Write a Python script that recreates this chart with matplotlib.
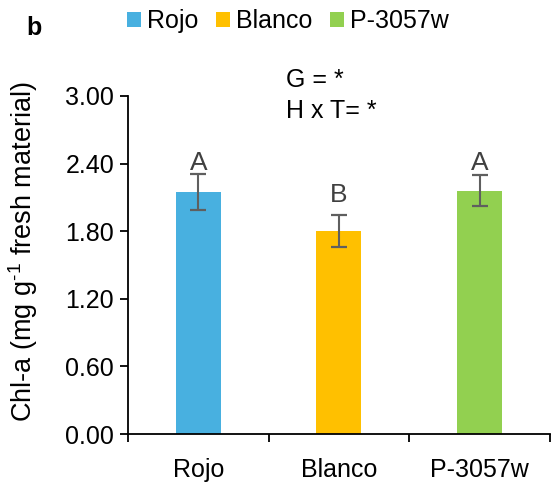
import matplotlib
matplotlib.use("Agg")
import matplotlib.pyplot as plt
from matplotlib.patches import Patch

plt.rcParams['font.family'] = ['Liberation Sans', 'DejaVu Sans']
plt.rcParams['mathtext.fontset'] = 'custom'
plt.rcParams['mathtext.rm'] = 'Liberation Sans'
plt.rcParams['mathtext.it'] = 'Liberation Sans:italic'

categories = ["Rojo", "Blanco", "P-3057w"]
values = [2.15, 1.80, 2.16]
errors = [0.16, 0.14, 0.14]
letters = ["A", "B", "A"]
letter_y = [2.34, 2.055, 2.34]
colors = ["#48B0E0", "#FFC000", "#92D050"]
yticks = [0.0, 0.6, 1.2, 1.8, 2.4, 3.0]

FS = 18

fig = plt.figure(figsize=(5.51, 4.84), dpi=100)
ax = fig.add_axes([0.2323, 0.1033, 0.7657, 0.6984])

x = list(range(len(categories)))
ax.bar(x, values, width=0.32, color=colors, zorder=2)
ax.errorbar(x, values, yerr=errors, fmt='none', ecolor='#5f5f5f',
            elinewidth=1.5, capsize=6, capthick=1.6, zorder=3)
for xi, ly, l in zip(x, letter_y, letters):
    ax.text(xi, ly, l, ha='center', va='baseline', fontsize=19, color='#404040')

ax.set_xlim(-0.5, 2.5)
ax.set_ylim(0, 3.0)
ax.set_yticks(yticks)
ax.set_yticklabels([f"{t:.2f}" for t in yticks])
ax.set_xticks([-0.5, 0.5, 1.5, 2.5])
ax.set_xticklabels([])
ax.set_xticks(x, minor=True)
ax.set_xticklabels(categories, minor=True)
ax.tick_params(axis='x', which='minor', length=0, pad=17, labelsize=FS)
ax.tick_params(axis='x', which='major', length=6, width=1.3, direction='out')
ax.tick_params(axis='y', length=6, width=1.3, labelsize=FS, pad=4)
for s in ['top', 'right']:
    ax.spines[s].set_visible(False)
for s in ['left', 'bottom']:
    ax.spines[s].set_linewidth(1.3)

fig.text(23/551, 1 - 252/484, "Chl-a (mg g$^{\\text{-1}}$ fresh material)",
         fontsize=19.5, rotation=90, ha='center', va='center')

fig.text(286/551, 1 - 87/484, "G = *", fontsize=FS, va='baseline', ha='left')
fig.text(286/551, 1 - 118/484, "H x T= *", fontsize=FS, va='baseline', ha='left')
fig.text(26/551, 1 - 35/484, "b", fontsize=18, fontweight='bold', va='baseline', ha='left')

handles = [Patch(facecolor=c, edgecolor='none') for c in colors]
fig.legend(handles, categories, loc='center', bbox_to_anchor=(288/551, 1 - 21/484),
           ncol=3, frameon=False, fontsize=FS, handlelength=0.55, handleheight=0.55,
           handletextpad=0.25, columnspacing=0.7)

fig.savefig("out.png", dpi=100)
